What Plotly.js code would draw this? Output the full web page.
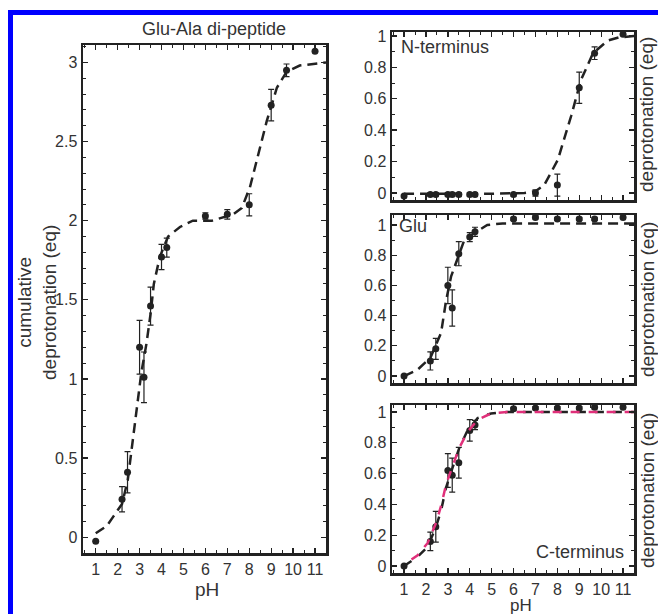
<!DOCTYPE html>
<html>
<head>
<meta charset="utf-8">
<script src="https://cdn.plot.ly/plotly-3.0.1.min.js"></script>
<style>html,body{margin:0;padding:0;background:#fff;}#chart{width:658px;height:614px;}</style>
</head>
<body>
<div id="chart"></div>
<script>
// ---- data ----
const phPoints = [1.0, 2.2, 2.45, 3.0, 3.2, 3.5, 4.0, 4.24, 6.0, 7.0, 8.0, 9.0, 9.7, 11.0];

const cumValues = [-0.025, 0.24, 0.41, 1.20, 1.01, 1.46, 1.77, 1.83, 2.03, 2.04, 2.10, 2.73, 2.95, 3.07];
const cumErrors = [0, 0.08, 0.13, 0.17, 0.16, 0.12, 0.08, 0.06, 0.02, 0.03, 0.07, 0.10, 0.04, 0];
const cumFitPh = [1, 1.5, 1.8, 2.2, 2.46, 2.78, 3.08, 3.31, 3.5, 3.65, 3.92, 4.3, 4.84, 5.43, 6.3, 7.27, 7.66, 8.03, 8.33, 8.8, 9.26, 9.7, 10.3, 11.5];
const cumFitVal = [0.025, 0.07, 0.13, 0.21, 0.36, 0.70, 1.04, 1.22, 1.41, 1.60, 1.77, 1.90, 1.96, 2.0, 2.0, 2.04, 2.08, 2.21, 2.38, 2.63, 2.84, 2.94, 2.98, 3.0];

const nTermValues = [-0.02, -0.01, -0.01, -0.01, -0.01, -0.01, -0.01, -0.01, -0.01, 0.0, 0.05, 0.67, 0.89, 1.01];
const nTermErrors = [0, 0.01, 0.01, 0.01, 0.01, 0.01, 0.01, 0.01, 0.01, 0.02, 0.07, 0.10, 0.04, 0];
const nFitPh = [1, 3, 5, 6.5, 7.0, 7.4, 8.02, 8.63, 9.08, 9.63, 10.3, 10.8, 11.5];
const nFitVal = [-0.005, -0.005, -0.005, 0.0, 0.01, 0.05, 0.21, 0.49, 0.72, 0.89, 0.97, 0.99, 1.0];

const gluValues = [0.0, 0.10, 0.18, 0.60, 0.45, 0.81, 0.92, 0.955, 1.04, 1.05, 1.04, 1.04, 1.04, 1.05];
const gluErrors = [0, 0.06, 0.07, 0.12, 0.12, 0.08, 0.03, 0.03, 0.01, 0.01, 0.01, 0.01, 0.01, 0];
const gluFitPh = [1, 1.6, 2.2, 2.69, 2.92, 3.15, 3.45, 3.75, 4.24, 4.8, 5.5, 11.5];
const gluFitVal = [0.0, 0.04, 0.12, 0.285, 0.50, 0.66, 0.78, 0.90, 0.95, 1.0, 1.01, 1.01];

const cTermValues = [0.0, 0.16, 0.255, 0.62, 0.59, 0.67, 0.88, 0.915, 1.02, 1.025, 1.025, 1.025, 1.03, 1.03];
const cTermErrors = [0, 0.06, 0.10, 0.11, 0.11, 0.10, 0.07, 0.03, 0.01, 0.01, 0.01, 0.01, 0.01, 0];
const cFitPh = [1, 1.62, 2.08, 2.46, 2.69, 2.92, 3.22, 3.53, 3.9, 4.36, 4.97, 5.7, 11.5];
const cFitVal = [0.0, 0.06, 0.125, 0.255, 0.36, 0.51, 0.64, 0.77, 0.88, 0.96, 0.99, 1.0, 1.0];
const cFit2Val = [0.01, 0.07, 0.15, 0.28, 0.39, 0.53, 0.65, 0.77, 0.87, 0.95, 0.99, 1.0, 1.0];

const xTickVals = [1, 2, 3, 4, 5, 6, 7, 8, 9, 10, 11];

// ---- helpers ----
const W = 658, H = 614;
const px = v => v / W;
const py = v => 1 - v / H;
const INK = '#222';
const TXT = '#333';
const FONT = 'Liberation Sans, Arial, sans-serif';

function fitTrace(x, y, xa, ya, color, dash, width) {
  return {x: x, y: y, xaxis: xa, yaxis: ya, type: 'scatter', mode: 'lines',
    line: {color: color || INK, width: width || 2.5, dash: dash || '10px,6px'},
    hoverinfo: 'skip', showlegend: false};
}
function pointTrace(x, y, e, xa, ya) {
  return {x: x, y: y, xaxis: xa, yaxis: ya, type: 'scatter', mode: 'markers',
    marker: {color: INK, size: 7, symbol: 'circle'},
    error_y: {type: 'data', array: e, visible: true, color: INK, thickness: 1.2, width: 3},
    showlegend: false};
}

const traces = [
  fitTrace(cumFitPh, cumFitVal, 'x', 'y'),
  pointTrace(phPoints, cumValues, cumErrors, 'x', 'y'),
  fitTrace(nFitPh, nFitVal, 'x2', 'y2'),
  pointTrace(phPoints, nTermValues, nTermErrors, 'x2', 'y2'),
  fitTrace(gluFitPh, gluFitVal, 'x3', 'y3'),
  pointTrace(phPoints, gluValues, gluErrors, 'x3', 'y3'),
  pointTrace(phPoints, cTermValues, cTermErrors, 'x4', 'y4'),
  fitTrace(cFitPh, cFitVal, 'x4', 'y4', INK, '9px,9px', 2.5),
  fitTrace(cFitPh, cFit2Val, 'x4', 'y4', '#e0307a', '0px,9px,9px,0px', 2.5)
];

function xAxis(domain, range, showLabels, anchor) {
  return {domain: domain, range: range, anchor: anchor,
    tickmode: 'array', tickvals: xTickVals, showticklabels: showLabels,
    ticks: 'inside', ticklen: 5, tickwidth: 1.3, tickcolor: INK,
    minor: {dtick: 0.5, tick0: 0, ticks: 'inside', ticklen: 3, tickwidth: 1, tickcolor: INK},
    showline: true, linewidth: 2.5, linecolor: INK, mirror: 'ticks',
    showgrid: false, zeroline: false,
    tickfont: {family: FONT, size: 16, color: TXT}};
}
function yAxis(domain, range, dtick, minorDtick, anchor) {
  return {domain: domain, range: range, anchor: anchor,
    tick0: 0, dtick: dtick,
    ticks: 'inside', ticklen: 5, tickwidth: 1.3, tickcolor: INK,
    minor: {dtick: minorDtick, tick0: 0, ticks: 'inside', ticklen: 3, tickwidth: 1, tickcolor: INK},
    showline: true, linewidth: 2.5, linecolor: INK, mirror: 'ticks',
    showgrid: false, zeroline: false,
    tickfont: {family: FONT, size: 16, color: TXT}};
}

function label(text, x, y, size, opts) {
  return Object.assign({text: text, xref: 'paper', yref: 'paper', x: px(x), y: py(y),
    xanchor: 'center', yanchor: 'middle', showarrow: false,
    font: {family: FONT, size: size, color: TXT}}, opts || {});
}

const leftX = [px(83), px(326)];
const rightX = [px(392), px(634)];

const layout = {
  width: W, height: H,
  margin: {l: 0, r: 0, t: 0, b: 0},
  paper_bgcolor: '#fff', plot_bgcolor: '#fff',
  showlegend: false,
  font: {family: FONT, color: TXT},
  xaxis: xAxis(leftX, [0.42, 11.5], true, 'y'),
  yaxis: yAxis([py(553), py(45)], [-0.1, 3.11], 0.5, 0.1, 'x'),
  xaxis2: xAxis(rightX, [0.45, 11.5], false, 'y2'),
  yaxis2: yAxis([py(200), py(32)], [-0.045, 1.025], 0.2, 0.1, 'x2'),
  xaxis3: xAxis(rightX, [0.45, 11.5], false, 'y3'),
  yaxis3: yAxis([py(383), py(215)], [-0.046, 1.066], 0.2, 0.1, 'x3'),
  xaxis4: xAxis(rightX, [0.45, 11.5], true, 'y4'),
  yaxis4: yAxis([py(573), py(405)], [-0.045, 1.045], 0.2, 0.1, 'x4'),
  shapes: [
    {type: 'rect', xref: 'paper', yref: 'paper', x0: px(8), x1: px(13), y0: 0, y1: py(10),
      fillcolor: '#0000ff', line: {width: 0}},
    {type: 'rect', xref: 'paper', yref: 'paper', x0: px(8), x1: 1, y0: py(15), y1: py(10),
      fillcolor: '#0000ff', line: {width: 0}}
  ],
  annotations: [
    label('Glu-Ala di-peptide', 214, 29, 18),
    label('cumulative<br>deprotonation (eq)', 37, 303, 19, {textangle: -90}),
    label('pH', 207, 589, 19),
    label('pH', 521, 605.5, 17),
    label('N-terminus', 399, 47, 18, {xanchor: 'left'}),
    label('Glu', 397, 226, 18, {xanchor: 'left'}),
    label('C-terminus', 626, 552, 18, {xanchor: 'right'}),
    label('deprotonation (eq)', 647, 115, 19, {textangle: -90}),
    label('deprotonation (eq)', 647, 300, 19, {textangle: -90}),
    label('deprotonation (eq)', 647, 491, 19, {textangle: -90})
  ]
};

Plotly.newPlot('chart', traces, layout, {staticPlot: true, displayModeBar: false});
</script>
</body>
</html>
